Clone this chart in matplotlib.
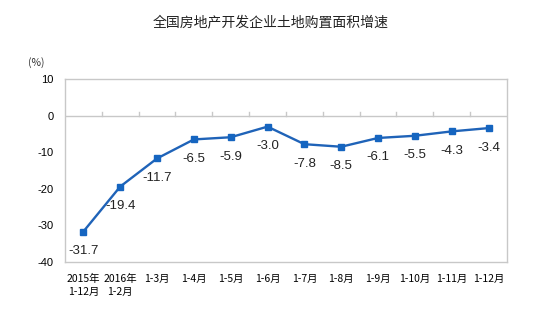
import matplotlib
matplotlib.use("Agg")
import matplotlib.pyplot as plt

plt.rcParams['font.family'] = ['Noto Sans CJK SC', 'DejaVu Sans']

categories = ['2015年\n1-12月', '2016年\n1-2月', '1-3月', '1-4月', '1-5月', '1-6月',
              '1-7月', '1-8月', '1-9月', '1-10月', '1-11月', '1-12月']
growth = [-31.7, -19.4, -11.7, -6.5, -5.9, -3.0, -7.8, -8.5, -6.1, -5.5, -4.3, -3.4]
yticks = [10, 0, -10, -20, -30, -40]

line_color = '#1f63b8'
frame_color = '#c8c8c8'

fig = plt.figure(figsize=(5.37, 3.14), dpi=100)
ax = fig.add_axes([0.121, 0.166, 0.823, 0.582])

x = list(range(len(categories)))
ax.plot(x, growth, color=line_color, linewidth=1.7, marker='s', markersize=5,
        markerfacecolor='#1565c0', markeredgecolor='#1565c0', zorder=3)

for xi, v in zip(x, growth):
    ax.annotate(f'{v:.1f}', (xi, v), xytext=(0, -14), textcoords='offset points',
                ha='center', va='center', fontsize=9.5, color='#222222',
                family=['Liberation Sans', 'DejaVu Sans'])

ax.set_xlim(-0.5, len(categories) - 0.5)
ax.set_ylim(-40, 10)
ax.set_yticks(yticks)
ax.set_yticklabels([str(t) for t in yticks], fontsize=8, family=['Liberation Sans'])
ax.set_xticks(x)
ax.set_xticklabels(categories, fontsize=7.5, linespacing=1.35, va='top')
ax.tick_params(axis='x', length=0, pad=9)
ax.tick_params(axis='y', length=0, pad=8)

for s in ax.spines.values():
    s.set_color(frame_color)
    s.set_linewidth(1.0)

# zero line with small category-boundary ticks
ax.axhline(0, color=frame_color, linewidth=1.0, zorder=1)
for b in range(1, len(categories)):
    ax.plot([b - 0.5, b - 0.5], [0, 1.0], color=frame_color, linewidth=1.0, zorder=1)

fig.text(0.503, 0.93, '全国房地产开发企业土地购置面积增速', ha='center', va='center',
         fontsize=10, color='#222222')
fig.text(0.067, 0.80, '(%)', ha='center', va='center', fontsize=7.5, color='#333333')

fig.savefig('out.png', dpi=100)
